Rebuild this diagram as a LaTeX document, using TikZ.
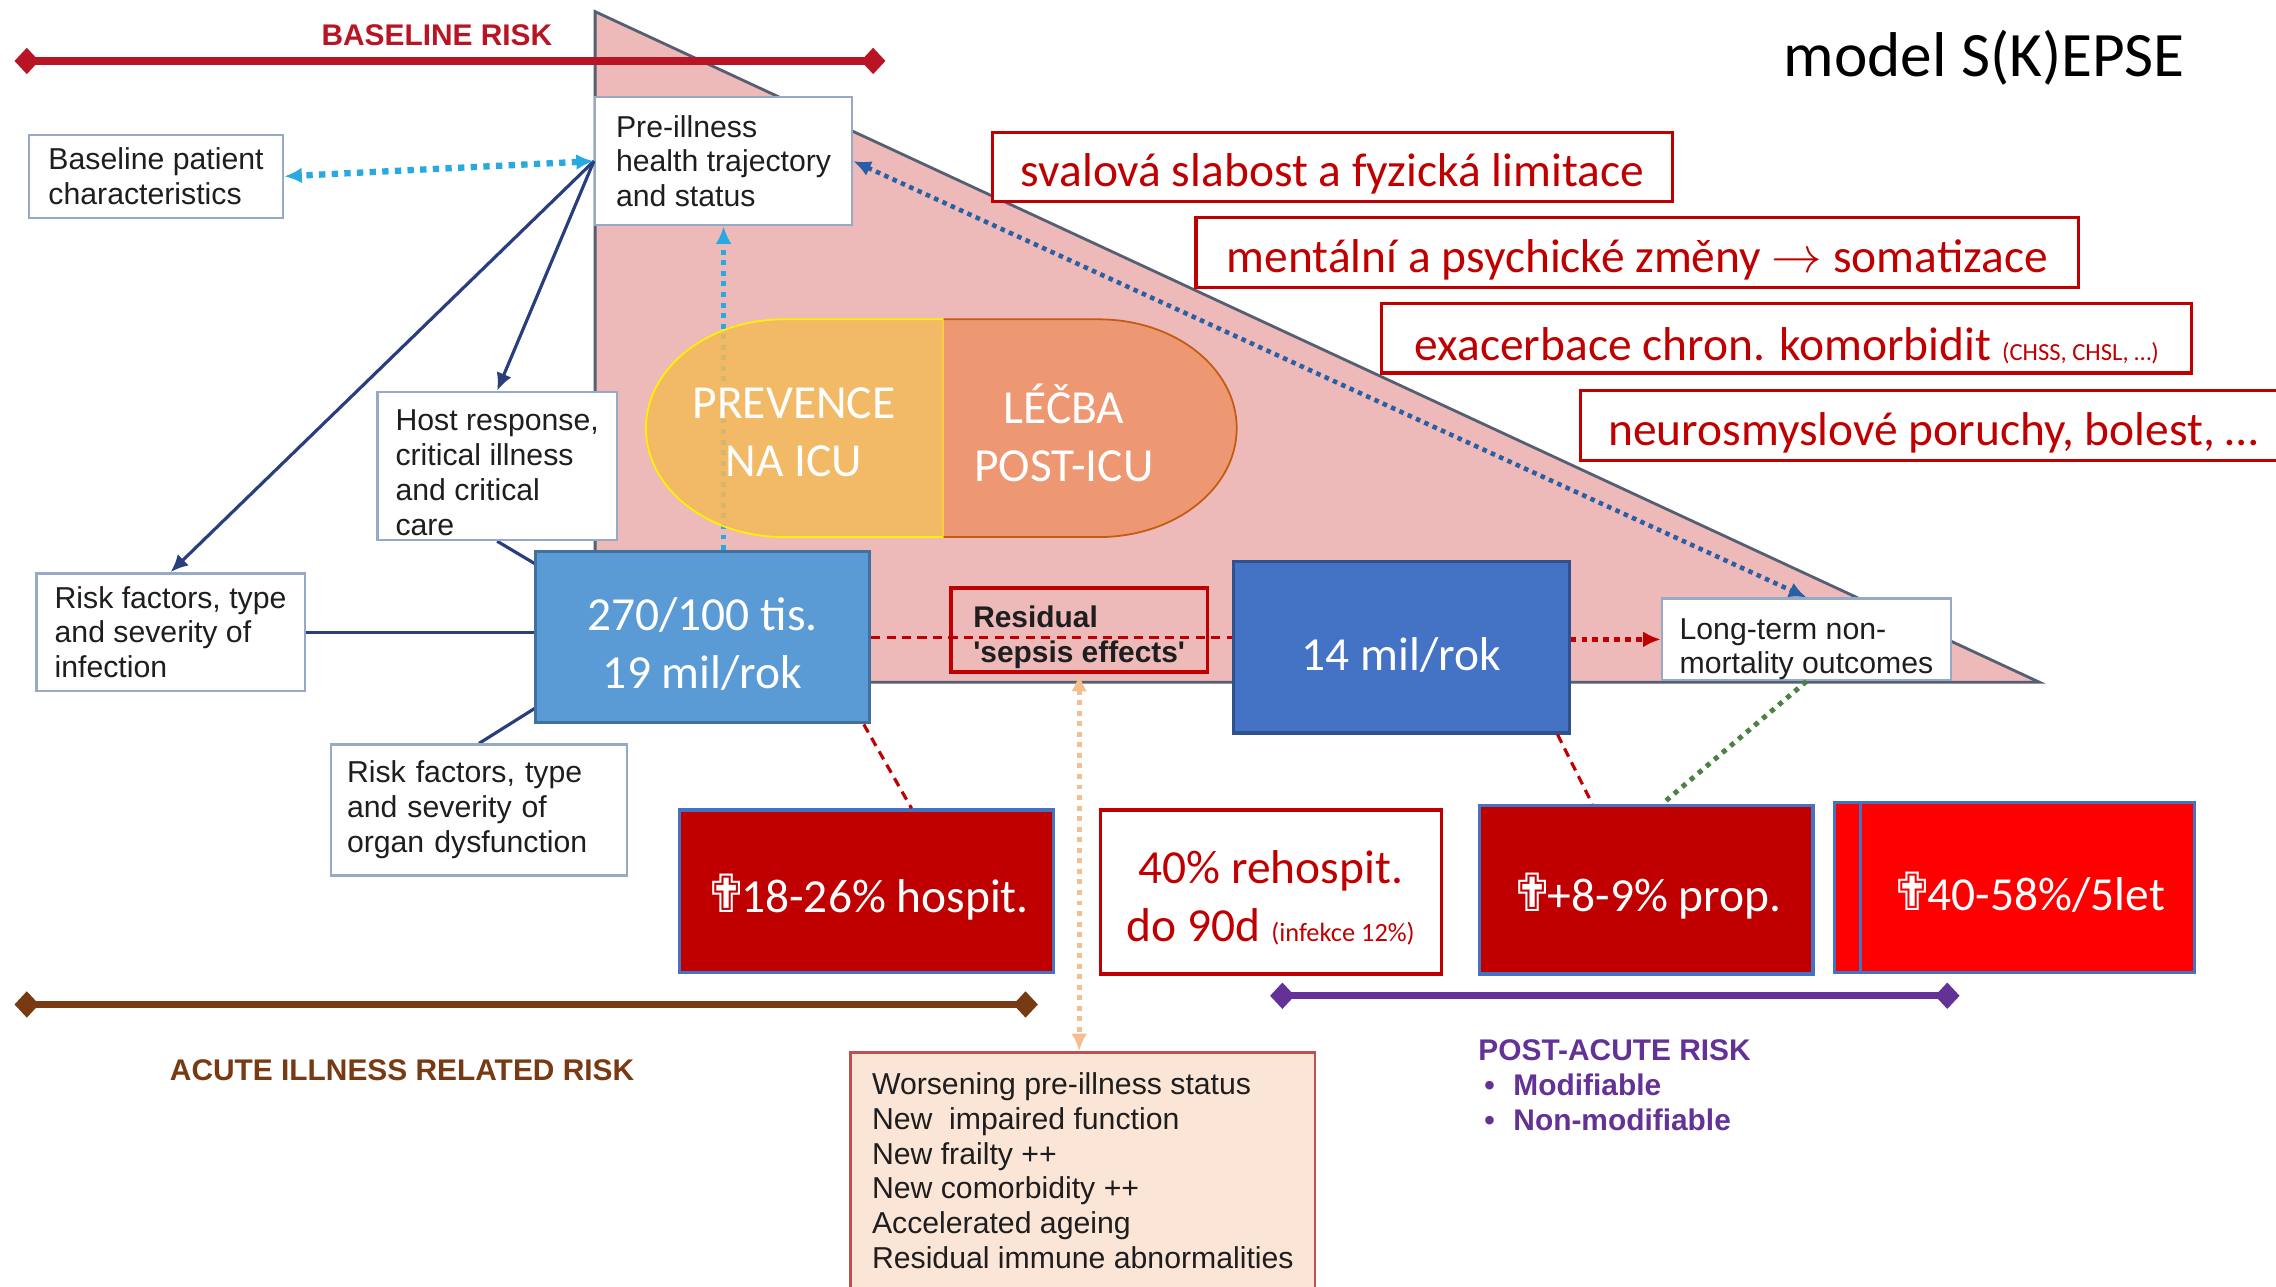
\documentclass[tikz,border=0pt]{standalone}
\usepackage{fontspec}
\setmainfont{Carlito}
\newfontfamily\arialf{Liberation Sans}
\newfontfamily\symf{DejaVu Sans}
\usetikzlibrary{positioning}
\usetikzlibrary{calc}
\usetikzlibrary{arrows.meta}
\usetikzlibrary{backgrounds}

\definecolor{pinkc}{RGB}{237,185,185}
\definecolor{triedge}{RGB}{85,95,115}
\definecolor{boxline}{RGB}{150,170,200}
\definecolor{txt}{RGB}{30,30,30}
\definecolor{navy}{RGB}{40,62,125}
\definecolor{skyc}{RGB}{40,170,225}
\definecolor{dotblue}{RGB}{40,95,165}
\definecolor{incblue}{RGB}{91,155,213}
\definecolor{incline}{RGB}{65,113,156}
\definecolor{milblue}{RGB}{68,114,196}
\definecolor{milline}{RGB}{47,82,143}
\definecolor{prevc}{RGB}{244,185,88}
\definecolor{lecbac}{RGB}{237,152,115}
\definecolor{lecbaline}{RGB}{197,90,17}
\definecolor{dred}{RGB}{192,0,0}
\definecolor{bred}{RGB}{255,0,0}
\definecolor{basered}{RGB}{185,20,35}
\definecolor{brownc}{RGB}{120,58,18}
\definecolor{purp}{RGB}{100,50,150}
\definecolor{peach}{RGB}{251,229,214}
\definecolor{peachline}{RGB}{190,80,80}
\definecolor{greendot}{RGB}{75,130,65}
\definecolor{orangedot}{RGB}{245,190,145}

\newlength{\pu}
\setlength{\pu}{0.14515mm}
\newcommand{\dcross}{{\symf\fontsize{15}{16}\selectfont ✟}\kern-2pt}
\newcommand{\lift}[1]{\rule{0pt}{#1}}

\tikzset{>={Latex[length=5pt,width=4.5pt]}}
\tikzset{area/.style args={#1/#2/#3/#4}{minimum width={(#3-#1)*\pu}, minimum height={(#4-#2)*\pu}, at={({(#1+#3)/2},{(#2+#4)/2})}}}
\tikzset{gbox/.style={draw=boxline, fill=white, line width=0.7pt, inner sep=0pt, align=left, text=txt, font=\arialf\fontsize{8.6}{9.9}\selectfont}}
\tikzset{resbox/.style={draw=dred, line width=1pt, inner sep=0pt, align=left, text=txt, font=\arialf\bfseries\fontsize{8.5}{9.9}\selectfont}}
\tikzset{rtbox/.style={draw=dred, fill=white, line width=0.9pt, inner sep=0pt, align=center, text=dred, font=\fontsize{13.5}{16.5}\selectfont}}
\tikzset{incbox/.style={draw=incline, fill=incblue, line width=0.9pt, inner sep=0pt, align=center, text=white, font=\fontsize{13.5}{16.5}\selectfont}}
\tikzset{milbox/.style={incbox, draw=milline, fill=milblue}}
\tikzset{deadbox/.style={draw=milblue, fill=dred, line width=0.9pt, inner sep=0pt, align=center, text=white, font=\fontsize{13.5}{16.5}\selectfont}}
\tikzset{pilltext/.style={align=center, text=white, font=\fontsize{13.5}{16.5}\selectfont}}
\tikzset{risklabel/.style={font=\arialf\bfseries\fontsize{8.5}{9.9}\selectfont}}
\tikzset{riskline/.style={line width=2.2pt, arrows={Diamond[length=7pt,width=7.5pt]-Diamond[length=7pt,width=7.5pt]}}}
\tikzset{navyline/.style={draw=navy, line width=0.9pt}}
\tikzset{skydot/.style={draw=skyc, line width=1.8pt, dash pattern=on 1.8pt off 1.8pt}}
\tikzset{skydotthin/.style={draw=skyc, line width=1.3pt, dash pattern=on 1.4pt off 1.6pt}}
\tikzset{bluedot/.style={draw=dotblue, line width=1.3pt, dash pattern=on 1.3pt off 1.3pt}}
\tikzset{reddash/.style={draw=dred, line width=0.9pt, dash pattern=on 2.6pt off 1.8pt}}
\tikzset{reddot/.style={draw=dred, line width=1.6pt, dash pattern=on 1.6pt off 1.5pt}}
\tikzset{greenline/.style={draw=greendot, line width=1.4pt, dash pattern=on 1.4pt off 1.6pt}}
\tikzset{orangeline/.style={draw=orangedot, line width=1.4pt, dash pattern=on 1.4pt off 1.6pt}}

\begin{document}
\begin{tikzpicture}[x=0.14515mm, y=-0.14515mm]
\useasboundingbox (0,0) rectangle (1568,886);

\begin{scope}[on background layer]
\fill[pinkc] (410,8) -- (1405,470) -- (410,470) -- cycle;
\draw[triedge, line width=0.8pt] (410,470) -- (410,8) -- (1405,470) -- cycle;
\end{scope}

\node[font=\fontsize{18}{22}\selectfont] (title) at (1367,40) {model S(K)EPSE};

\coordinate (blA) at (10,42);
\coordinate (blB) at (610,42);
\draw[riskline, draw=basered] (blA) -- (blB);
\node[risklabel, text=basered] (blrisk) at (301,24) {BASELINE RISK};

\coordinate (acA) at (10,692);
\coordinate (acB) at (715,692);
\draw[riskline, draw=brownc] (acA) -- (acB);
\node[risklabel, text=brownc] (acrisk) at (277,737) {ACUTE ILLNESS RELATED RISK};

\coordinate (paA) at (875,686);
\coordinate (paB) at (1350,686);
\draw[riskline, draw=purp, line width=2pt] (paA) -- (paB);
\node[risklabel, text=purp, align=left, anchor=north west] (parisk) at (1010,708)
  {POST-ACUTE RISK\\\hspace*{0.6mm}\makebox[2.9mm][l]{\textbullet}Modifiable\\\hspace*{0.6mm}\makebox[2.9mm][l]{\textbullet}Non-modifiable};

\node[gbox, area=20/93/195/150] (bl) {Baseline patient\\characteristics};
\node[gbox, area=410/67/587/155] (pre) {Pre-illness\\health trajectory\\and status};
\node[gbox, area=260/270/425/372] (host) {\lift{9.8pt}Host response,\\critical illness\\and critical\\care};
\node[gbox, area=25/395/210/476] (ri) {Risk factors, type\\and severity of\\infection};
\node[gbox, area=228/513/432/603, text width=26.4mm] (org) {Risk factors, type\\and severity of\\organ dysfunction};
\node[gbox, area=1145/413/1344/468] (lt) {\lift{11.5pt}Long-term non-\\mortality outcomes};
\node[resbox, area=655/405/832/463] (res) {\lift{10.5pt}Residual\\\textquotesingle sepsis effects\textquotesingle};
\node[gbox, fill=peach, draw=peachline, area=586/725/906/888] (worse)
  {Worsening pre-illness status\\New\ \ impaired function\\New frailty ++\\New comorbidity ++\\Accelerated ageing\\Residual immune abnormalities};

\node[incbox, area=369/380/599/498] (inc) {\lift{13.3pt}270/100 tis.\\19 mil/rok};
\node[milbox, area=850/387/1081/505] (mil) {\lift{13.5pt}14 mil/rok};

\node[rtbox, area=684/91/1152/139] (sval) {\lift{13.5pt}svalová slabost a fyzická limitace};
\node[rtbox, area=824/150/1432/198] (ment) {\lift{13.5pt}mentální a psychické změny $\rightarrow$ somatizace};
\node[rtbox, area=952/209/1510/257] (exac) {\lift{13.5pt}exacerbace chron. komorbidit {\fontsize{7}{8}\selectfont (CHSS, CHSL, …)}};
\node[rtbox, area=1089/269/1575/317] (neuro) {\lift{13.5pt}neurosmyslové poruchy, bolest, …};

\node[deadbox, area=468/558/726/670] (hosp) {\lift{14.5pt}\dcross18-26\% hospit.};
\node[rtbox, area=758/558/993/671] (rehosp) {\lift{12.5pt}40\% rehospit.\\do 90d {\fontsize{7.5}{9}\selectfont (infekce 12\%)}};
\node[deadbox, area=1019/555/1249/671] (prop) {\lift{14.5pt}\dcross+8-9\% prop.};
\node[deadbox, fill=bred, area=1264/553/1500/670] (lateb) {};
\node[deadbox, fill=bred, area=1282/553/1512/670] (late) {\lift{13.5pt}\dcross40-58\%/5let};

\coordinate (hostin) at (378,394);
\coordinate (orgin) at (378,482);
\begin{scope}[on background layer]
\draw[navyline] (host.south) -- (hostin);
\draw[navyline] (org.north) -- (orgin);
\end{scope}

\draw[navyline, ->] (pre.west) -- (ri.north);
\draw[navyline, ->] (pre.west) -- (host.north);
\draw[navyline] (ri.east) -- (ri.east -| inc.west);
\draw[skydot, <->] (pre.west) -- (bl.east);
\draw[skydotthin, ->] (pre.south |- inc.north) -- (pre.south);

\fill[prevc, fill opacity=0.85] (650,220) -- (540,220) .. controls (487.5,220) and (445,253.6) .. (445,295)
  .. controls (445,336.4) and (487.5,370) .. (540,370) -- (650,370) -- cycle;
\draw[yellow, line width=0.5pt] (650,220) -- (540,220) .. controls (487.5,220) and (445,253.6) .. (445,295)
  .. controls (445,336.4) and (487.5,370) .. (540,370) -- (650,370) -- cycle;
\fill[lecbac] (650,220) -- (757,220) .. controls (809.5,220) and (852,253.6) .. (852,295)
  .. controls (852,336.4) and (809.5,370) .. (757,370) -- (650,370) -- cycle;
\draw[lecbaline, line width=0.5pt] (650,220) -- (757,220) .. controls (809.5,220) and (852,253.6) .. (852,295)
  .. controls (852,336.4) and (809.5,370) .. (757,370) -- (650,370);
\node[pilltext] (prev) at (547,298) {PREVENCE\\NA ICU};
\node[pilltext] (lecba) at (733,298) {LÉČBA\\POST-ICU};

\draw[reddash] (inc.east) -- (inc.east -| mil.west);
\draw[reddot, ->] (mil.east |- lt.west) -- (lt.west);
\draw[bluedot, <->] (pre.east) -- (lt.north);
\draw[reddash] ($(inc.south east)+(-5,0)$) -- ($(hosp.north)+(31,0)$);
\draw[reddash] ($(mil.south east)+(-9,0)$) -- ($(prop.north)+(-37,0)$);
\draw[greenline] (lt.south) -- ($(prop.north)+(11,0)$);
\draw[orangeline, <->] (res.south) -- (res.south |- worse.north);
\end{tikzpicture}
\end{document}
